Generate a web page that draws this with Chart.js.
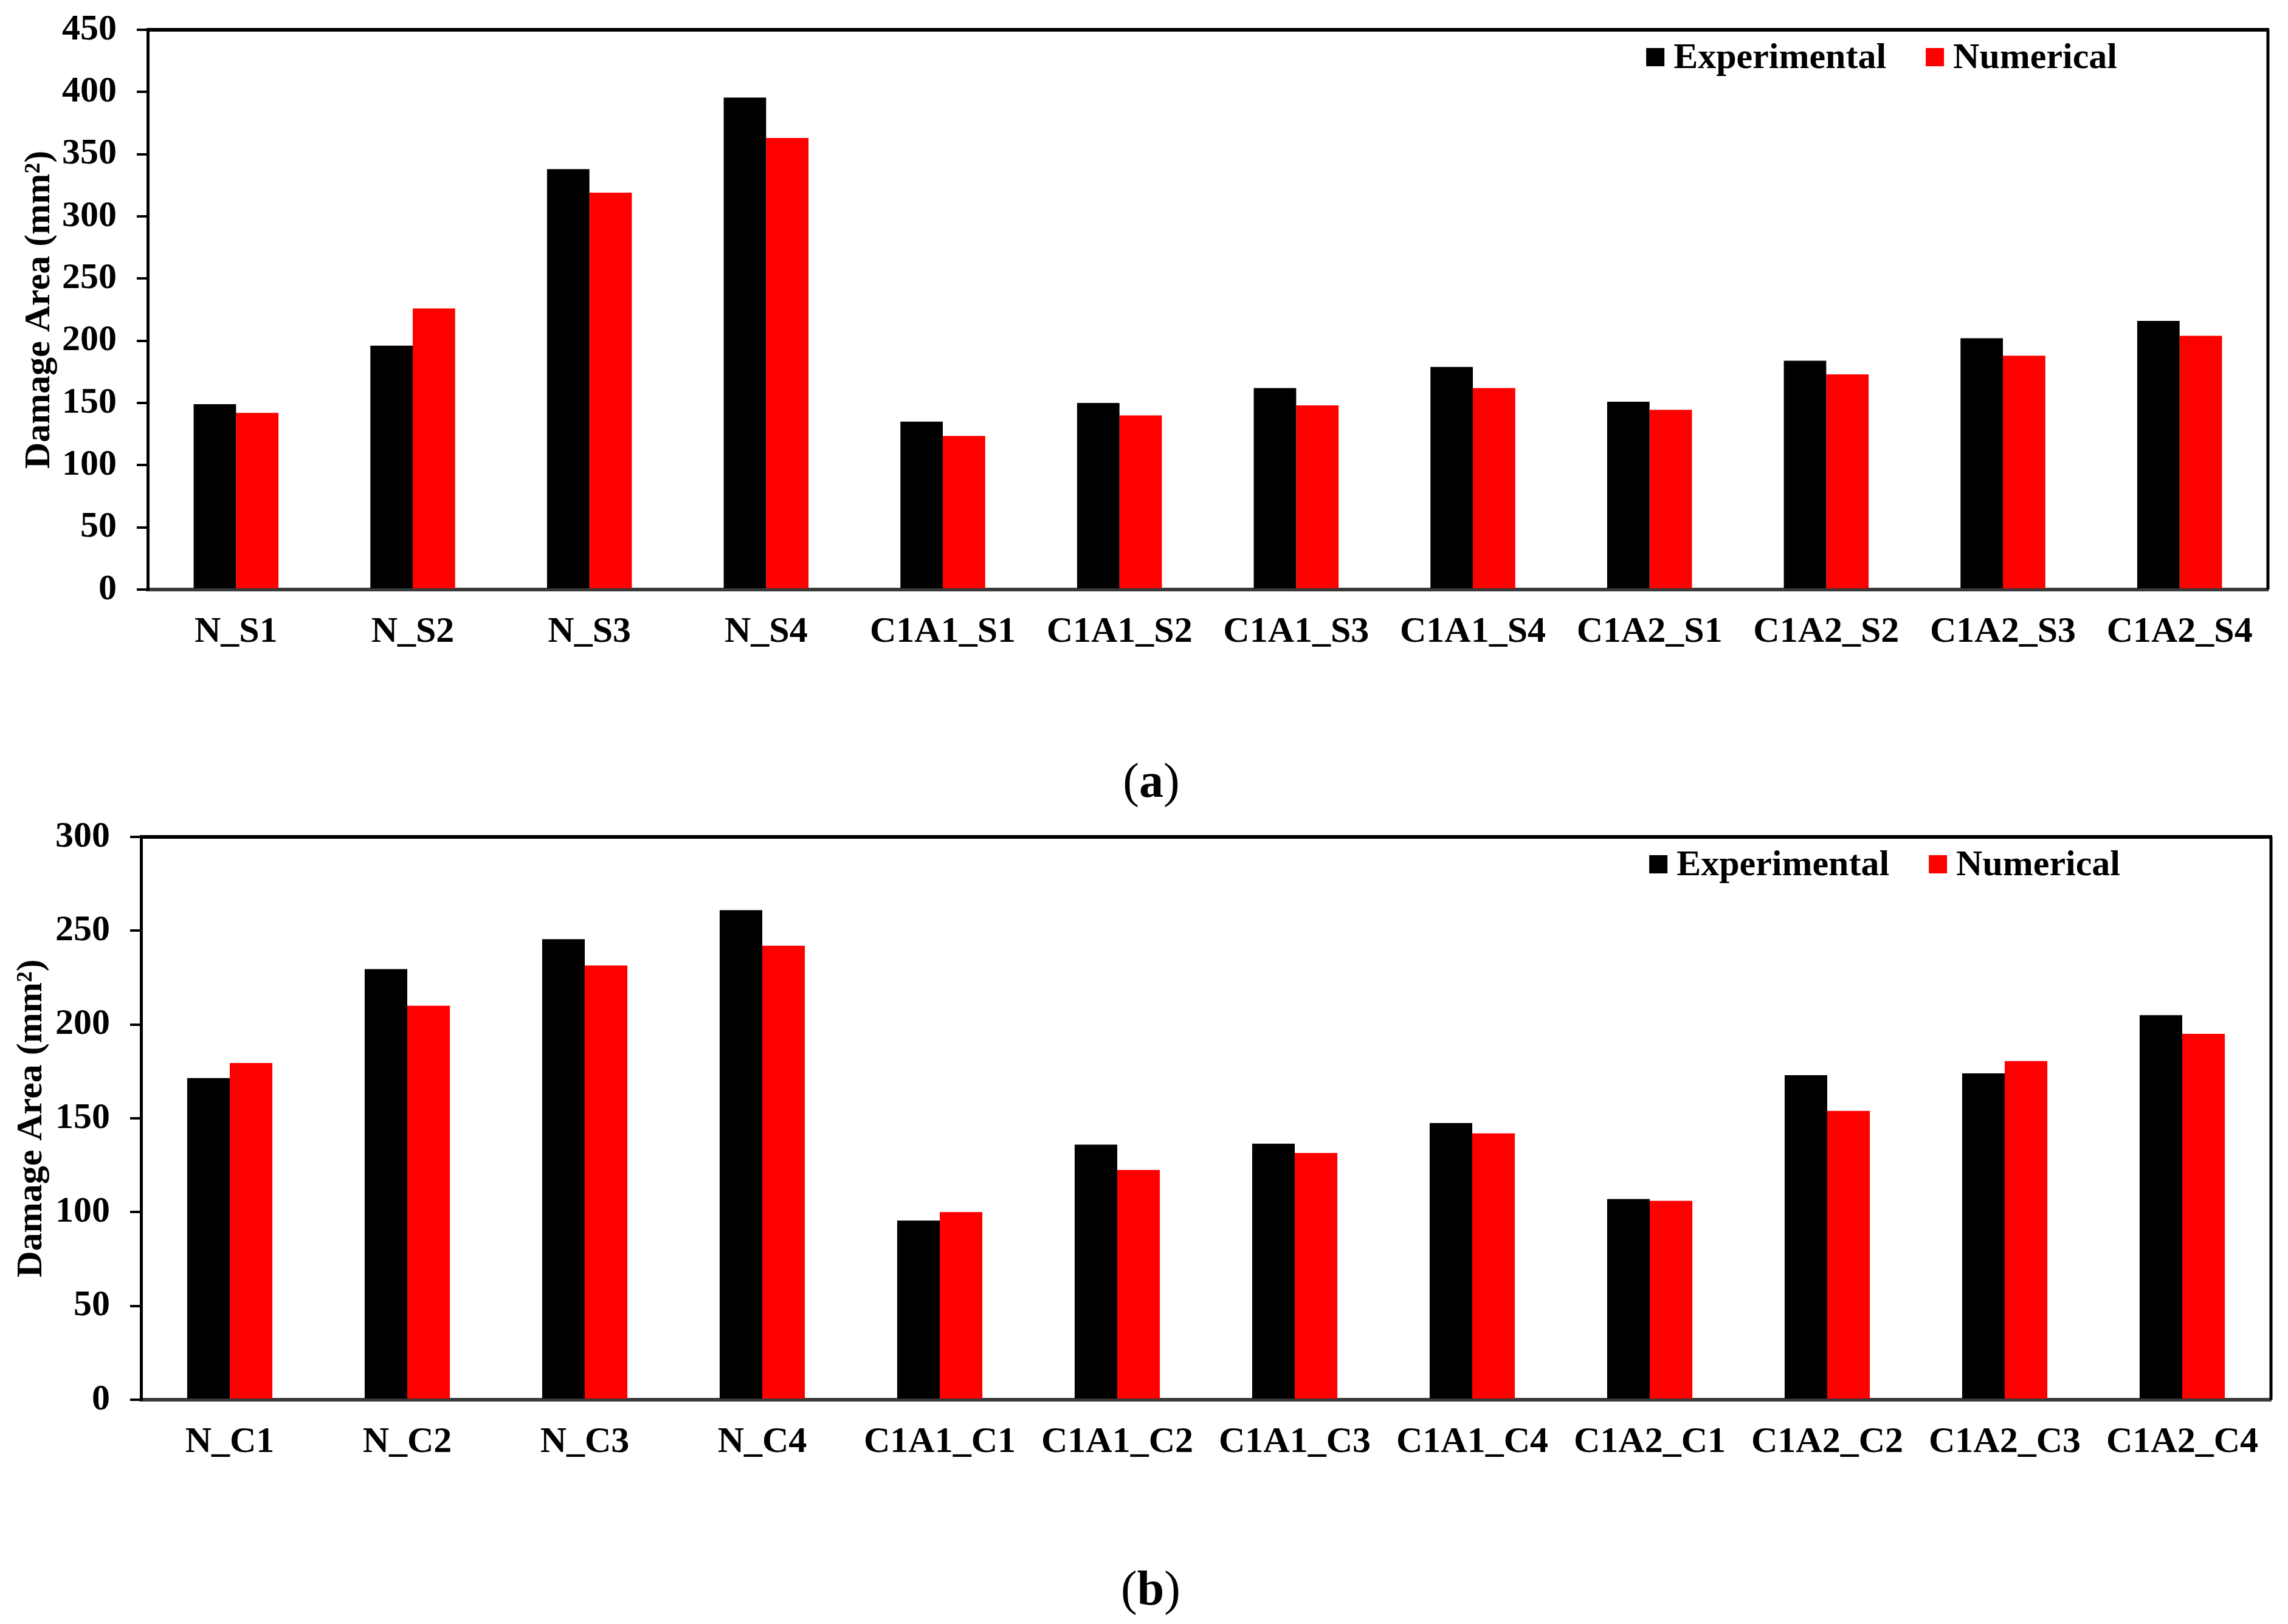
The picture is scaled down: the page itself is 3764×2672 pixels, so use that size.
<!DOCTYPE html>
<html>
<head>
<meta charset="utf-8">
<script src="https://cdn.jsdelivr.net/npm/chart.js@4.4.1/dist/chart.umd.min.js"></script>
<style>
  html, body { margin: 0; padding: 0; background: #fff; }
  body { width: 3764px; height: 2672px; position: relative; overflow: hidden; }
  canvas { position: absolute; left: 0; }
  .cap { position: absolute; transform: translate(-50%, -50%); font-family: "Liberation Serif", "Times New Roman", serif; font-size: 80px; line-height: 1; color: #000; white-space: nowrap; }
</style>
</head>
<body>
<canvas id="chartA" width="3764" height="1140" style="top:0px"></canvas>
<canvas id="chartB" width="3764" height="1140" style="top:1330px"></canvas>
<div class="cap" style="left:1894px; top:1284px">(<b>a</b>)</div>
<div class="cap" style="left:1893px; top:2613px">(<b>b</b>)</div>
<script>
// ---- Data ----
const seriesNames = ['Experimental', 'Numerical'];
const seriesColors = ['#000000', '#FF0000'];
const yTitle = 'Damage Area (mm\u00B2)';

const categoriesA = ['N_S1', 'N_S2', 'N_S3', 'N_S4', 'C1A1_S1', 'C1A1_S2', 'C1A1_S3', 'C1A1_S4', 'C1A2_S1', 'C1A2_S2', 'C1A2_S3', 'C1A2_S4'];
const experimentalA = [149, 196, 338, 395.5, 135, 150, 162, 179, 151, 184, 202, 216];
const numericalA = [142, 226, 319, 363, 123.5, 140, 148, 162, 144.5, 173, 188, 204];
const yMaxA = 450;
const yStepA = 50;

const categoriesB = ['N_C1', 'N_C2', 'N_C3', 'N_C4', 'C1A1_C1', 'C1A1_C2', 'C1A1_C3', 'C1A1_C4', 'C1A2_C1', 'C1A2_C2', 'C1A2_C3', 'C1A2_C4'];
const experimentalB = [171.5, 229.5, 245.5, 261, 95.5, 136, 136.5, 147.5, 107, 173, 174, 205];
const numericalB = [179.5, 210, 231.5, 242, 100, 122.5, 131.5, 142, 106, 154, 180.5, 195];
const yMaxB = 300;
const yStepB = 50;

// ---- Styling ----
const FONT_FAMILY = '"Liberation Serif", "Times New Roman", serif';
Chart.defaults.font.family = FONT_FAMILY;
Chart.defaults.font.weight = 'bold';
Chart.defaults.font.size = 60;
Chart.defaults.color = '#000';

const frameAndLegend = {
  id: 'frameAndLegend',
  afterDraw(chart, args, opts) {
    const { ctx, chartArea: a } = chart;
    ctx.save();
    ctx.strokeStyle = '#000';
    ctx.lineWidth = 6;
    ctx.beginPath(); ctx.moveTo(a.left - 2, a.top); ctx.lineTo(a.right + 2, a.top); ctx.stroke();
    ctx.lineWidth = 5;
    ctx.beginPath(); ctx.moveTo(a.right, a.top); ctx.lineTo(a.right, a.bottom); ctx.stroke();
    // legend
    ctx.font = 'bold 60px ' + FONT_FAMILY;
    const box = 30, gap = 15, spacing = 65;
    const items = chart.data.datasets.map(ds => ({ label: ds.label, color: ds.backgroundColor, w: ctx.measureText(ds.label).width }));
    const total = items.reduce((s, it) => s + box + gap + it.w, 0) + spacing * (items.length - 1);
    let x = a.right - opts.rightInset - total;
    const top = a.top + opts.topInset;
    ctx.textBaseline = 'alphabetic';
    ctx.textAlign = 'left';
    items.forEach(it => {
      ctx.fillStyle = it.color;
      ctx.fillRect(x, top, box, box);
      x += box + gap;
      ctx.fillStyle = '#000';
      ctx.fillText(it.label, x, top + box + 3);
      x += it.w + spacing;
    });
    ctx.restore();
  }
};

function makeChart(id, categories, exp, num, yMax, yStep, geom) {
  return new Chart(document.getElementById(id), {
    type: 'bar',
    data: {
      labels: categories,
      datasets: [
        { label: seriesNames[0], data: exp, backgroundColor: seriesColors[0], borderWidth: 0 },
        { label: seriesNames[1], data: num, backgroundColor: seriesColors[1], borderWidth: 0 }
      ]
    },
    options: {
      responsive: false,
      animation: false,
      devicePixelRatio: 1,
      layout: { padding: { top: geom.padTop, right: geom.padRight, left: 0, bottom: 0 } },
      datasets: { bar: { categoryPercentage: 0.48, barPercentage: 1.0 } },
      plugins: {
        legend: { display: false },
        tooltip: { enabled: false },
        frameAndLegend: { rightInset: 248, topInset: 30 }
      },
      scales: {
        x: {
          afterFit: s => { s.height = geom.xHeight; },
          grid: { display: false, drawTicks: false, tickLength: 0 },
          border: { display: true, color: '#3a3a3a', width: 6 },
          ticks: { padding: 34, maxRotation: 0, autoSkip: false, font: { size: 60, weight: 'bold' } }
        },
        y: {
          min: 0, max: yMax,
          afterFit: s => { s.width = geom.yWidth; s.paddingTop = 0; s.paddingBottom = 0; },
          grid: { display: true, drawOnChartArea: false, drawTicks: true, tickLength: 18, lineWidth: 4, color: '#000' },
          border: { display: true, color: '#000', width: 5 },
          ticks: { stepSize: yStep, padding: 33, font: { size: 60, weight: 'bold' } },
          title: { display: true, text: yTitle, font: { size: 60, weight: 'bold' }, padding: { top: geom.titlePad, bottom: 0 } }
        }
      }
    },
    plugins: [frameAndLegend]
  });
}

makeChart('chartA', categoriesA, experimentalA, numericalA, yMaxA, yStepA,
  { padTop: 49, padRight: 33, xHeight: 170, yWidth: 243, titlePad: 29 });
makeChart('chartB', categoriesB, experimentalB, numericalB, yMaxB, yStepB,
  { padTop: 47, padRight: 28, xHeight: 167, yWidth: 232, titlePad: 16 });
</script>
</body>
</html>
